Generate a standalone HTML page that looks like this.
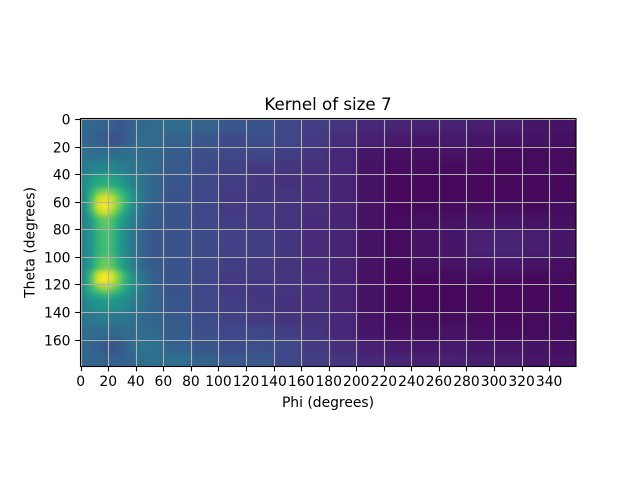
<!DOCTYPE html>
<html>
<head>
<meta charset="utf-8">
<title>Kernel of size 7</title>
<style>
html,body{margin:0;padding:0;background:#fff;}
svg{display:block;}
text{font-family:"DejaVu Sans",sans-serif;fill:#000;}
</style>
</head>
<body>
<svg id="chart" xmlns="http://www.w3.org/2000/svg" width="640" height="480" viewBox="0 0 640 480">
  <defs>
    <clipPath id="plot-clip"><rect x="80" y="118.4" width="496" height="248"></rect></clipPath>
    <filter id="soften" filterUnits="userSpaceOnUse" x="40" y="80" width="580" height="330" color-interpolation-filters="sRGB">
      <feGaussianBlur stdDeviation="2.6"></feGaussianBlur>
    </filter>
  </defs>
  <g clip-path="url(#plot-clip)">
    <g id="cells" filter="url(#soften)"></g>
  </g>
  <g id="grid"></g>
  <g id="ticks"></g>
  <rect x="80.5" y="118.5" width="495.5" height="248" fill="none" stroke="#000" stroke-width="1.1"></rect>
  <text x="328" y="110" text-anchor="middle" font-size="16.67">Kernel of size 7</text>
  <text x="328" y="407" text-anchor="middle" font-size="13.89">Phi (degrees)</text>
  <text transform="translate(34.5 242.4) rotate(-90)" text-anchor="middle" font-size="13.89">Theta (degrees)</text>
</svg>
<script>
const phiEdges = [0,5,10,15,20,25,30,35,40,45,50,60,80,100,120,140,160,180,200,220,240,260,280,300,320,340,360];
const thetaEdges = [0,10,20,30,40,50,55,60,65,70,80,90,100,110,115,120,125,130,140,150,160,170,180];
const xTickLabels = [0,20,40,60,80,100,120,140,160,180,200,220,240,260,280,300,320,340];
const yTickLabels = [0,20,40,60,80,100,120,140,160];
const intensity = [
[33,33,32,31,29,27,29,31,33,34,35,35,31,27,26,21,18,15,11,10, 9, 9, 8, 8, 6, 5],
[32,32,30,28,25,26,29,32,34,35,35,31,27,23,24,21,17,13, 9, 7, 6, 7, 6, 5, 5, 4],
[36,36,36,36,36,35,36,36,35,34,33,29,24,21,21,18,15,11, 6, 4, 4, 5, 4, 3, 3, 3],
[41,43,45,45,45,43,41,39,37,35,33,28,23,19,17,15,14,11, 5, 3, 3, 3, 3, 2, 3, 3],
[47,55,60,62,60,55,50,44,40,36,32,27,22,18,16,14,13,10, 5, 2, 2, 2, 2, 2, 2, 2],
[47,62,76,82,78,68,60,50,42,36,32,26,21,17,16,15,13,10, 5, 2, 2, 2, 2, 2, 2, 2],
[46,68,90,97,92,78,65,53,43,36,31,26,21,17,16,15,13,10, 5, 2, 2, 2, 2, 2, 2, 2],
[45,70,96,100,94,80,65,51,41,34,30,26,21,17,16,15,13, 9, 5, 2, 2, 3, 3, 3, 2, 3],
[44,64,88,96,86,72,58,47,39,33,29,26,21,17,17,15,13,10, 5, 2, 3, 3, 4, 4, 3, 3],
[44,54,68,76,72,60,50,42,36,31,28,26,22,18,17,15,12,10, 5, 3, 4, 5, 6, 6, 5, 4],
[44,52,64,70,68,56,47,40,34,30,27,26,23,19,18,16,12,10, 5, 3, 5, 6, 9,10, 8, 6],
[44,52,64,70,68,56,47,40,34,30,27,26,23,19,18,16,12,10, 5, 3, 5, 6, 9,10, 8, 6],
[45,56,70,78,74,62,52,43,36,31,28,26,22,18,17,15,12,10, 5, 3, 4, 5, 6, 6, 5, 4],
[47,70,94,100,96,80,64,51,41,35,30,26,21,17,17,15,13,10, 5, 2, 3, 3, 4, 4, 3, 3],
[48,72,96,100,94,80,64,52,42,36,30,26,21,17,16,15,13, 9, 5, 2, 2, 3, 3, 3, 2, 3],
[50,66,80,86,82,72,60,51,43,37,31,26,21,17,16,15,13,10, 5, 2, 2, 2, 2, 2, 2, 2],
[48,56,62,66,64,58,53,47,41,36,32,26,21,17,16,15,13,10, 5, 2, 2, 2, 2, 2, 2, 2],
[44,48,51,52,51,49,46,42,38,35,32,27,22,18,16,14,13,10, 5, 2, 2, 2, 2, 2, 2, 2],
[38,40,41,42,41,40,39,37,35,33,32,28,23,19,17,15,14,11, 5, 3, 3, 3, 3, 2, 3, 3],
[35,35,35,34,33,34,35,35,35,35,34,29,24,21,21,18,15,11, 6, 4, 4, 5, 4, 3, 3, 3],
[33,32,30,28,26,28,31,35,38,39,37,31,27,23,24,22,17,13, 9, 7, 6, 7, 6, 5, 5, 4],
[33,33,32,31,30,30,31,33,35,36,37,36,31,27,27,21,18,15,11,10, 9, 9, 8, 8, 6, 5]
];

const viridisStops = ["#440154","#482475","#414487","#355f8d","#2a788e","#21918c","#22a884","#44bf70","#7ad151","#bddf26","#fde725"];

const axLeft = 80, axTop = 118.4, axWidth = 496, axHeight = 248;
function xScale(phi){ return axLeft + (phi + 0.5) * axWidth / 360; }
function yScale(theta){ return axTop + (theta + 0.5) * axHeight / 180; }
function snap(v){ return Math.round(v) + 0.5; }

function hexToRgb(h){ return [parseInt(h.slice(1,3),16),parseInt(h.slice(3,5),16),parseInt(h.slice(5,7),16)]; }
function colorFor(v){
  const t = Math.max(0, Math.min(1, v / 100)) * (viridisStops.length - 1);
  const i = Math.min(Math.floor(t), viridisStops.length - 2);
  const f = t - i;
  const a = hexToRgb(viridisStops[i]), b = hexToRgb(viridisStops[i + 1]);
  return "rgb(" + a.map(function(c, k){ return Math.round(c + (b[k] - c) * f); }).join(",") + ")";
}

const NS = "http://www.w3.org/2000/svg";
const cellsG = document.getElementById("cells");
const gridG = document.getElementById("grid");
const ticksG = document.getElementById("ticks");

intensity.forEach(function(row, r){
  row.forEach(function(v, c){
    const el = document.createElementNS(NS, "rect");
    
    
    /* outer cells bleed past the frame so the softening does not fade at the edges */
    const x0 = c === 0 ? axLeft - 20 : xScale(phiEdges[c]);
    const x1 = c === row.length - 1 ? axLeft + axWidth + 20 : xScale(phiEdges[c + 1]);
    const y0 = r === 0 ? axTop - 20 : yScale(thetaEdges[r]);
    const y1 = r === intensity.length - 1 ? axTop + axHeight + 20 : yScale(thetaEdges[r + 1]);
    el.setAttribute("x", x0);
    el.setAttribute("y", y0);
    el.setAttribute("width", x1 - x0 + 0.4);
    el.setAttribute("height", y1 - y0 + 0.4);
    el.setAttribute("fill", colorFor(v));
    cellsG.appendChild(el);
  });
});

function addLine(parent, x1, y1, x2, y2, stroke, width){
  const l = document.createElementNS(NS, "line");
  l.setAttribute("x1", x1); l.setAttribute("y1", y1);
  l.setAttribute("x2", x2); l.setAttribute("y2", y2);
  l.setAttribute("stroke", stroke); l.setAttribute("stroke-width", width);
  parent.appendChild(l);
  return l;
}

xTickLabels.forEach(function(v){
  const x = snap(xScale(v));
  const g = addLine(gridG, x, axTop, x, axTop + axHeight, "#b0b0b0", 1.1);
  
  
  const t = addLine(ticksG, x, axTop + axHeight, x, axTop + axHeight + 4.9, "#000", 1.1);
  
  
  const label = document.createElementNS(NS, "text");
  
  
  label.setAttribute("x", xScale(v));
  label.setAttribute("y", 386);
  label.setAttribute("text-anchor", "middle");
  label.setAttribute("font-size", "13.89");
  label.textContent = v;
  ticksG.appendChild(label);
});

yTickLabels.forEach(function(v){
  const y = snap(yScale(v));
  const g = addLine(gridG, axLeft, y, axLeft + axWidth, y, "#b0b0b0", 1.1);
  
  
  const t = addLine(ticksG, axLeft - 4.9, y, axLeft, y, "#000", 1.1);
  
  
  const label = document.createElementNS(NS, "text");
  
  
  label.setAttribute("x", axLeft - 9.5);
  label.setAttribute("y", y + 5);
  label.setAttribute("text-anchor", "end");
  label.setAttribute("font-size", "13.89");
  label.textContent = v;
  ticksG.appendChild(label);
});
</script>
</body>
</html>
